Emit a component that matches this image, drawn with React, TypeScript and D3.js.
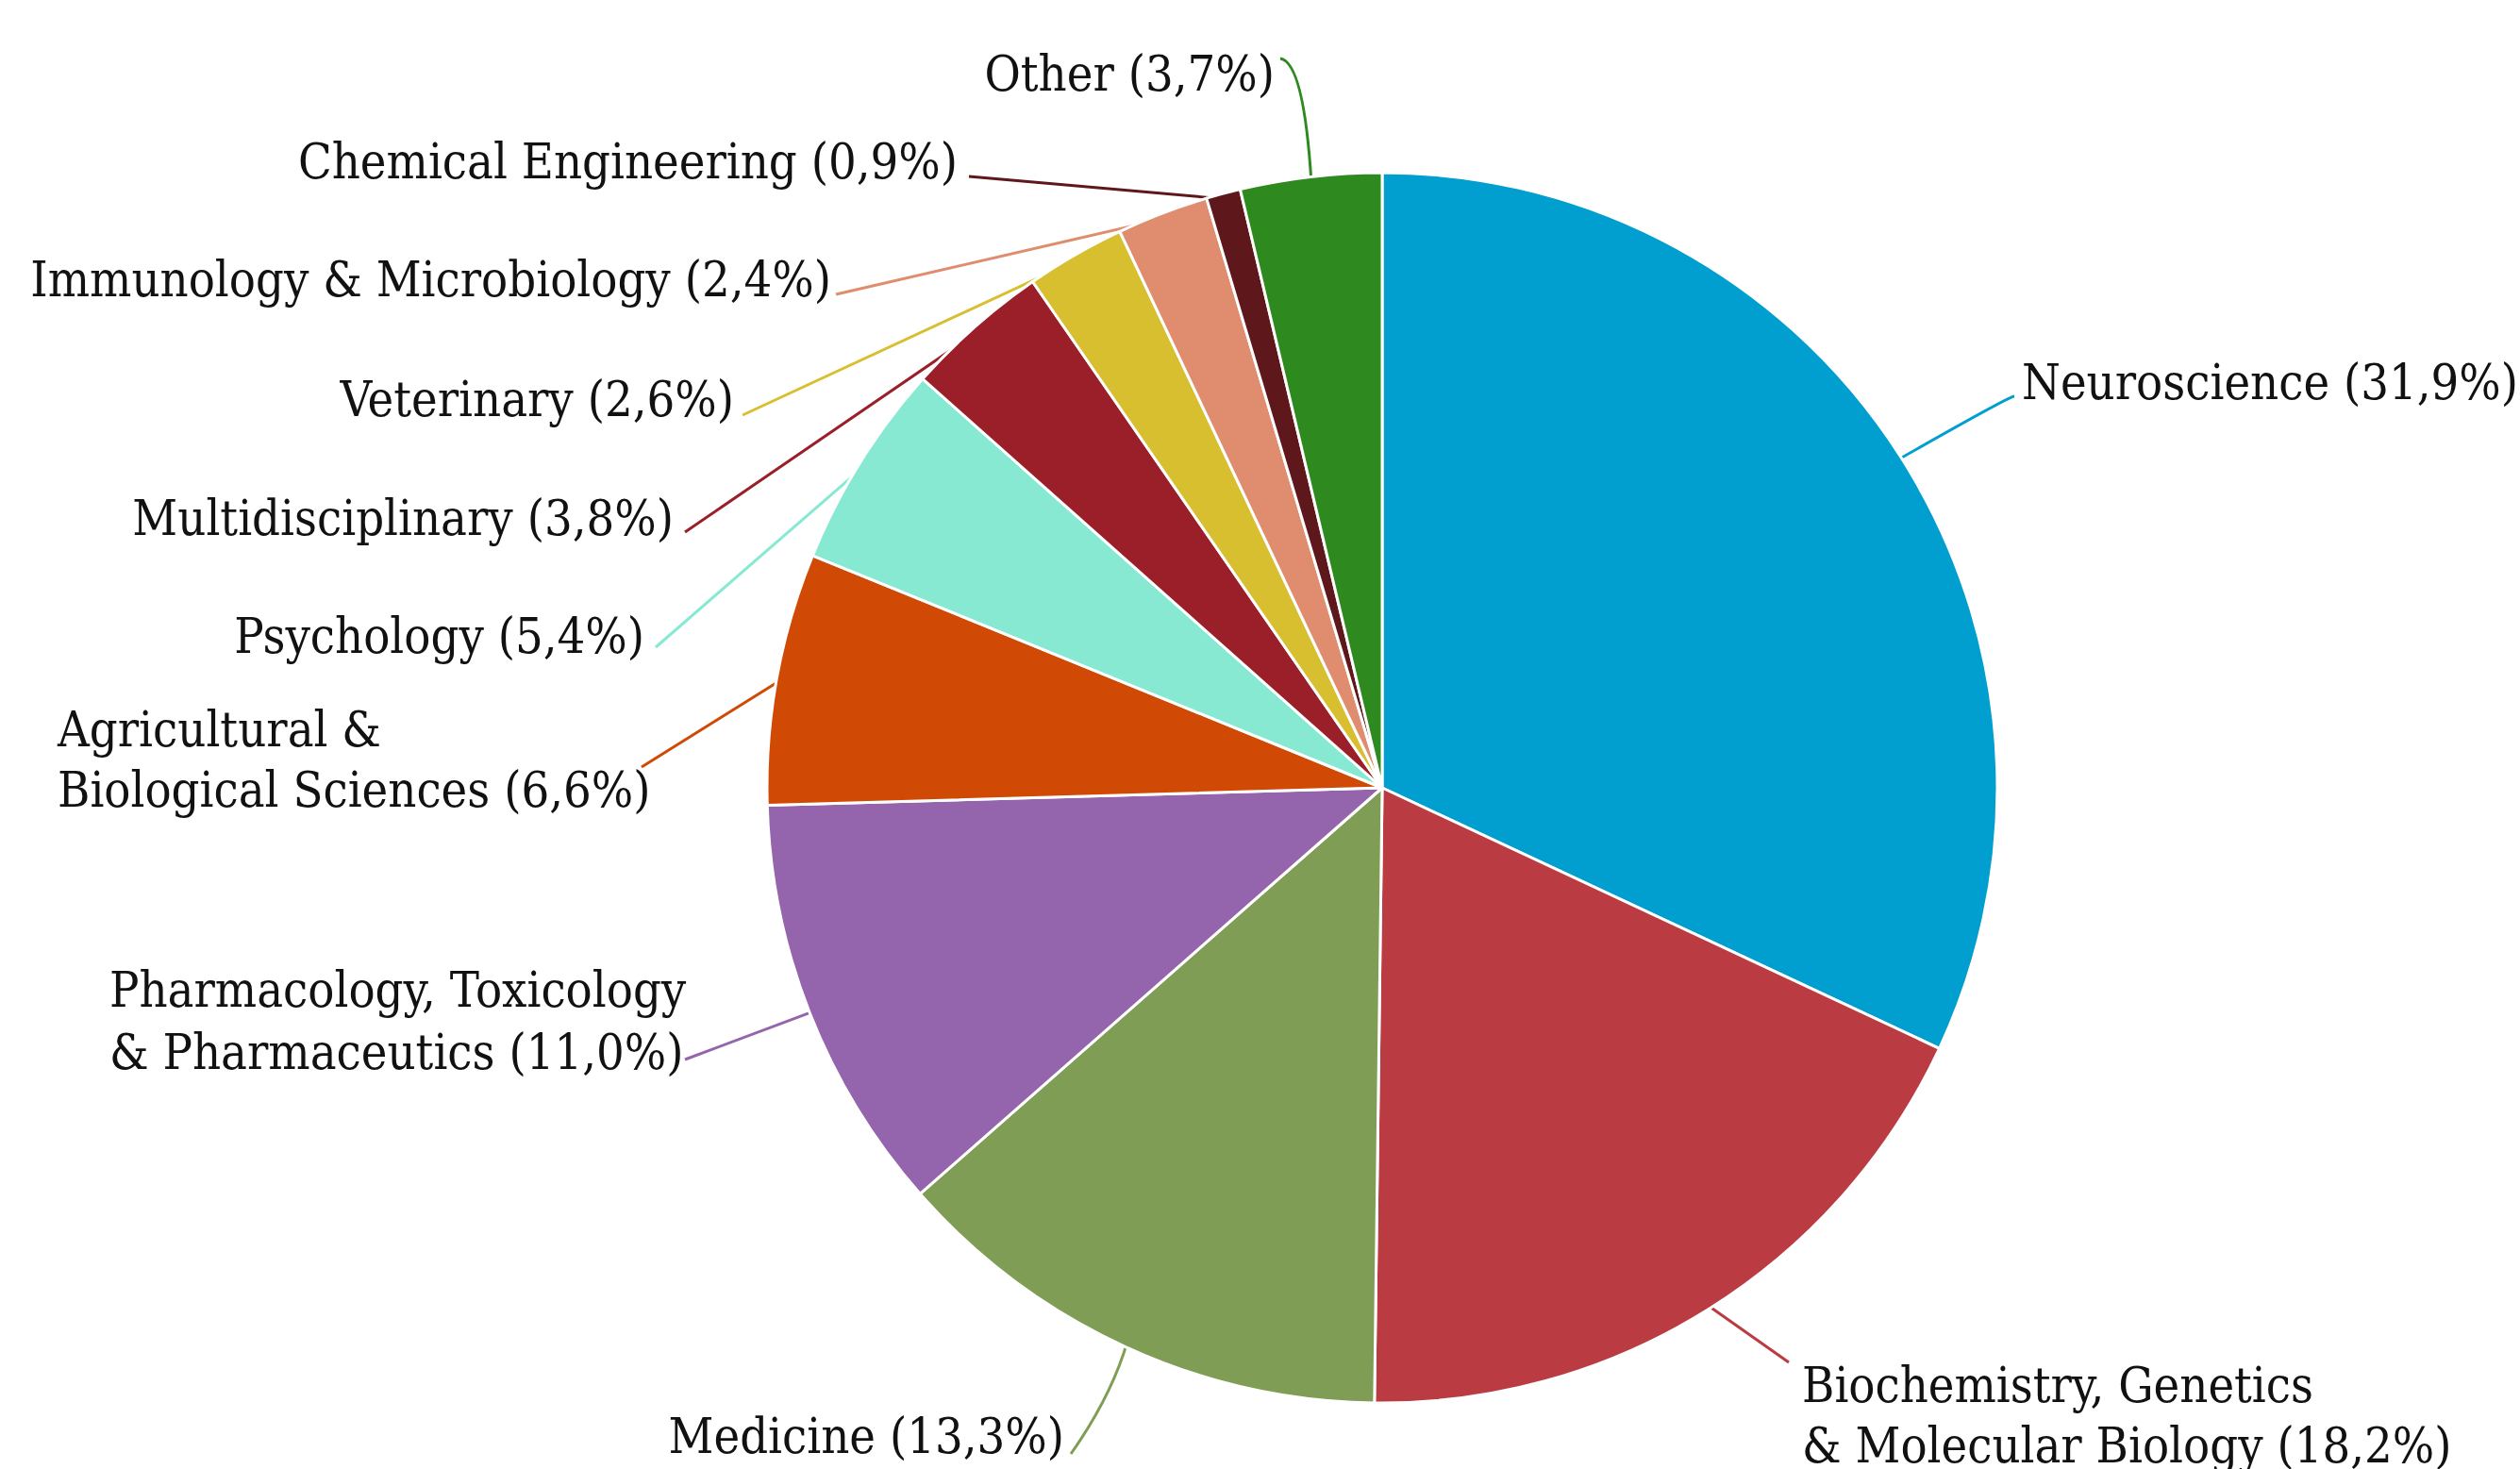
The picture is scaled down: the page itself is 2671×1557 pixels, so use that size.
import React from "react";
import * as d3 from "d3";

const categories = [
  "Neuroscience",
  "Biochemistry, Genetics & Molecular Biology",
  "Medicine",
  "Pharmacology, Toxicology & Pharmaceutics",
  "Agricultural & Biological Sciences",
  "Psychology",
  "Multidisciplinary",
  "Veterinary",
  "Immunology & Microbiology",
  "Chemical Engineering",
  "Other",
];
const values = [31.9, 18.2, 13.3, 11.0, 6.6, 5.4, 3.8, 2.6, 2.4, 0.9, 3.7];
const colors = [
  "#009fcf", "#ba3c42", "#7f9d55", "#9464ad", "#d04a05", "#88e9d3",
  "#9b1f29", "#d8bf30", "#e08c6e", "#5e181c", "#2e8a1f",
];
// label line breaks (text) per category
const labelLines = [
  ["Neuroscience"],
  ["Biochemistry, Genetics", "& Molecular Biology"],
  ["Medicine"],
  ["Pharmacology, Toxicology", "& Pharmaceutics"],
  ["Agricultural &", "Biological Sciences"],
  ["Psychology"],
  ["Multidisciplinary"],
  ["Veterinary"],
  ["Immunology & Microbiology"],
  ["Chemical Engineering"],
  ["Other"],
];

// layout (positions of labels and leader starts)
type Lay = { x: number; y: number[]; anchor: "start" | "end"; lead: [number, number]; ctrl?: [number, number] };
const layout: Lay[] = [
  { x: 2143, y: [404], anchor: "start", lead: [2135, 420], ctrl: [2128, 421] },
  { x: 1910, y: [1467, 1531], anchor: "start", lead: [1896, 1444] },
  { x: 1128, y: [1521], anchor: "end", lead: [1135, 1541], ctrl: [1178, 1480] },
  { x: 116, y: [1048, 1114], anchor: "start", lead: [726, 1123] },
  { x: 61, y: [772, 836], anchor: "start", lead: [680, 813] },
  { x: 683, y: [673], anchor: "end", lead: [695, 686] },
  { x: 714, y: [548], anchor: "end", lead: [726, 564] },
  { x: 778, y: [422], anchor: "end", lead: [787, 440] },
  { x: 881, y: [295], anchor: "end", lead: [886, 312] },
  { x: 1015, y: [170], anchor: "end", lead: [1027, 187] },
  { x: 1351, y: [77], anchor: "end", lead: [1357, 62], ctrl: [1382, 66] },
];

const W = 2671;
const H = 1557;
const cx = 1465;
const cy = 835;
const R = 652;

const fmt = (v: number) => v.toFixed(1).replace(".", ",") + "%";

export default function App() {
  const pie = d3.pie<number>().sort(null).value((d) => d)(values);
  const arc = d3.arc<d3.PieArcDatum<number>>().innerRadius(0).outerRadius(R);
  const edge = d3.arc<d3.PieArcDatum<number>>().innerRadius(R - 6).outerRadius(R - 6);

  return (
    <svg
      width={W}
      height={H}
      style={{ position: "absolute", left: 0, top: 0, background: "#fff" }}
      fontFamily="'DejaVu Serif Condensed', 'DejaVu Serif', serif"
    >
      <g transform={`translate(${cx},${cy})`}>
        {pie.map((d, i) => {
          const [ex, ey] = edge.centroid(d);
          const L = layout[i];
          const p = d3.path();
          const sx = L.lead[0] - cx;
          const sy = L.lead[1] - cy;
          p.moveTo(sx, sy);
          if (L.ctrl) p.quadraticCurveTo(L.ctrl[0] - cx, L.ctrl[1] - cy, ex, ey);
          else p.lineTo(ex, ey);
          return (
            <path key={"l" + i} d={p.toString()} fill="none" stroke={colors[i]} strokeWidth={3} />
          );
        })}
        {pie.map((d, i) => (
          <path key={"s" + i} d={arc(d) || ""} fill={colors[i]} stroke="#fff" strokeWidth={3} strokeLinejoin="round" />
        ))}
      </g>
      {layout.map((L, i) => (
        <text
          key={"t" + i}
          x={L.x}
          textAnchor={L.anchor}
          fontSize={52}
          fill="#111"
          style={{ fontStretch: "condensed" }}
        >
          {labelLines[i].map((ln, j) => (
            <tspan key={j} x={L.x} y={L.y[j]} dy="0.36em">
              {j === labelLines[i].length - 1 ? `${ln} (${fmt(values[i])})` : ln}
            </tspan>
          ))}
        </text>
      ))}
    </svg>
  );
}
